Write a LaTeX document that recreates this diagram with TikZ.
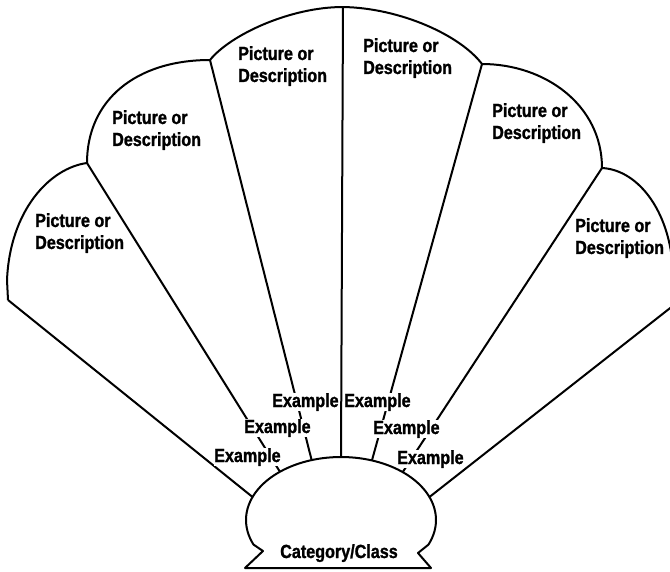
\documentclass[tikz,border=0pt]{standalone}
\usepackage{fontspec}
\newfontfamily\labfont[FakeStretch=0.85,BoldFeatures={FakeBold=1.3}]{Liberation Sans}
\begin{document}
\begin{tikzpicture}[x=1pt,y=-1pt,line join=round,
  outline/.style={draw=black,line width=2pt},
  ray/.style={draw=black,line width=2pt},
  desc/.style={font=\labfont\bfseries\fontsize{19}{22}\selectfont,anchor=north west,inner sep=0pt,align=left},
  ex/.style={font=\labfont\bfseries\fontsize{19}{21}\selectfont,anchor=base west,inner sep=0pt,fill=white},
  cat/.style={font=\labfont\bfseries\fontsize{19}{21}\selectfont,anchor=base,inner sep=0pt}]
\path[use as bounding box] (0,0) rectangle (670,571);
\clip (0,0) rectangle (670,571);
% junctions of the scalloped top
\coordinate (L0) at (8,300);
\coordinate (J1) at (87,163);
\coordinate (J2) at (210,60);
\coordinate (J3) at (343,7);
\coordinate (J4) at (482,64);
\coordinate (J5) at (602,168);
\coordinate (R0) at (674,305);
% points on the base
\coordinate (b0) at ({341+95*cos(158.6)},{520-63*sin(158.6)});
\coordinate (b1) at ({341+95*cos(130)},{520-63*sin(130)});
\coordinate (b2) at ({341+95*cos(108)},{520-63*sin(108)});
\coordinate (b3) at ({341+95*cos(90)},{520-63*sin(90)});
\coordinate (b4) at ({341+95*cos(71)},{520-63*sin(71)});
\coordinate (b5) at ({341+95*cos(49.5)},{520-63*sin(49.5)});
\coordinate (b6) at ({341+95*cos(21.4)},{520-63*sin(21.4)});
\coordinate (nl) at (263,551);
\coordinate (cl) at (245,568);
\coordinate (cr) at (431,568);
\coordinate (nr) at (418,553);
% scalloped outline
\draw[outline] (L0) -- (7,280) .. controls (10,210) and (50,168) .. (J1)
  .. controls (87,100) and (136,60) .. (J2)
  .. controls (230,35) and (290,7) .. (J3)
  .. controls (400,8) and (460,35) .. (J4)
  .. controls (545,64) and (602,105) .. (J5)
  .. controls (640,170) and (672,215) .. (673,275) -- (R0);
% rays
\draw[ray] (L0) -- (b0);
\draw[ray] (J1) -- (b1);
\draw[ray] (J2) -- (b2);
\draw[ray] (J3) -- (b3);
\draw[ray] (J4) -- (b4);
\draw[ray] (J5) -- (b5);
\draw[ray] (R0) -- (b6);
% base
\draw[outline,fill=white] (nr) -- plot[domain=-23:203,samples=90] ({341+95*cos(\x)},{520-63*sin(\x)})
  -- (nl) -- (cl) -- (cr) -- cycle;
% texts
\node[desc] (d1) at (35,213) {Picture or\\Description};
\node[desc] (d2) at (112,110) {Picture or\\Description};
\node[desc] (d3) at (238,46) {Picture or\\Description};
\node[desc] (d4) at (363,38) {Picture or\\Description};
\node[desc] (d5) at (492,103) {Picture or\\Description};
\node[desc] (d6) at (575,218) {Picture or\\Description};
\node[ex] (e1) at (272,407) {Example};
\node[ex] (e2) at (344,407) {Example};
\node[ex] (e3) at (244,433) {Example};
\node[ex] (e4) at (373,434) {Example};
\node[ex] (e5) at (214,462) {Example};
\node[ex] (e6) at (397,464) {Example};
\node[cat] (c) at (339,558) {Category/Class};
\end{tikzpicture}
\end{document}
